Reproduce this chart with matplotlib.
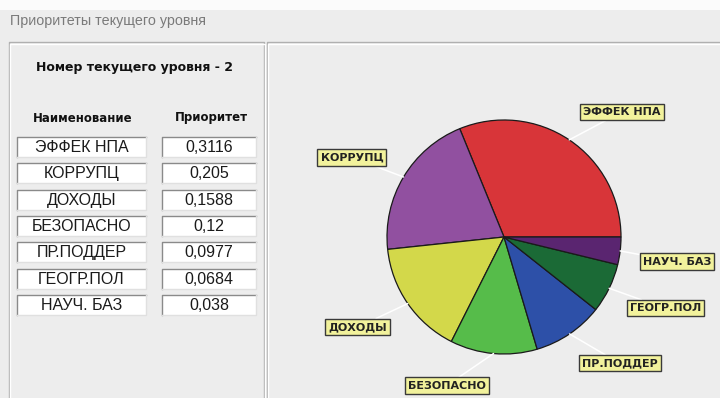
import numpy as np
import matplotlib
matplotlib.use('Agg')
import matplotlib.pyplot as plt
from matplotlib.patches import Rectangle

# priorities of the current level
names = ['ЭФФЕК НПА', 'КОРРУПЦ', 'ДОХОДЫ', 'БЕЗОПАСНО', 'ПР.ПОДДЕР', 'ГЕОГР.ПОЛ', 'НАУЧ. БАЗ']
priorities = [0.3116, 0.205, 0.1588, 0.12, 0.0977, 0.0684, 0.038]
level = 2

colors = ['#d83539', '#9150a0', '#d3d84a', '#56bc4a', '#2d50a8', '#1b6a36', '#5a2570']
# where each callout sits, in pie radius units
label_pos = [(1.01, 1.07), (-1.30, 0.68), (-1.25, -0.77), (-0.49, -1.27),
             (0.99, -1.08), (1.38, -0.61), (1.48, -0.21)]

W, H = 720, 398
fig = plt.figure(figsize=(W / 100, H / 100), dpi=100)
fig.patch.set_facecolor('#ededed')

# window background drawn in pixel coordinates
bg = fig.add_axes([0, 0, 1, 1])
bg.set_xlim(0, W)
bg.set_ylim(H, 0)
bg.axis('off')

bg.add_patch(Rectangle((0, 0), W, 10, fc='#fbfbfb', ec='none'))
bg.text(10, 21, 'Приоритеты текущего уровня', fontsize=10.3, color='#7a7a7a',
        family='Liberation Sans', va='center', ha='left')


def etched(x0, y0, x1, y1):
    bg.plot([x0, x1, x1, x0, x0], [y1, y1, y0, y0, y1], color='#b0b0b0', lw=1)
    bg.plot([x0 + 1.5, x1 + 1.5, x1 + 1.5, x0 + 1.5, x0 + 1.5],
            [y1 + 3, y1 + 3, y0 + 1.5, y0 + 1.5, y1 + 3], color='white', lw=1)


etched(8.5, 42, 263.5, 405)
etched(266.5, 42, 730, 405)

bg.text(135, 67, f'Номер текущего уровня - {level}', fontsize=9, weight='bold',
        ha='center', va='center', color='#111111')
bg.text(83, 118, 'Наименование', fontsize=8.5, weight='bold', ha='center', va='center',
        color='#111111')
bg.text(211, 118, 'Приоритет', fontsize=8.5, weight='bold', ha='center', va='center',
        color='#111111')


def cell(x0, x1, y0, txt):
    h = 20
    bg.add_patch(Rectangle((x0, y0), x1 - x0, h, fc='white', ec='none'))
    bg.plot([x0, x0, x1], [y0 + h, y0, y0], color='#8a8a8a', lw=1)
    bg.plot([x0, x1, x1], [y0 + h, y0 + h, y0], color='#e0e0e0', lw=1)
    bg.text((x0 + x1) / 2, y0 + h / 2 + 0.5, txt, fontsize=11.5, family='Liberation Sans',
            ha='center', va='center', color='#1a1a1a')


for i, (n, p) in enumerate(zip(names, priorities)):
    top = 137 + i * 26.3
    cell(17, 146, top, n)
    cell(162, 256, top, str(p).replace('.', ','))

# pie chart
cx, cy, r = 504, 237, 117
ax = fig.add_axes([(cx - r) / W, (H - cy - r) / H, 2 * r / W, 2 * r / H])
wedges, _ = ax.pie(priorities, colors=colors, startangle=0, counterclock=True,
                   wedgeprops=dict(edgecolor='#1a1a1a', linewidth=0.9))
ax.set_xlim(-1, 1)
ax.set_ylim(-1, 1)
ax.axis('off')

for w, n, pos in zip(wedges, names, label_pos):
    mid = np.deg2rad((w.theta1 + w.theta2) / 2)
    ax.annotate(n, xy=(np.cos(mid), np.sin(mid)), xytext=pos, textcoords='data',
                ha='center', va='center', fontsize=8, weight='bold', color='#222222',
                annotation_clip=False,
                bbox=dict(boxstyle='square,pad=0.28', fc='#f2f29c', ec='#3a3a3a', lw=1),
                arrowprops=dict(arrowstyle='-', color='white', lw=1.1,
                                shrinkA=0, shrinkB=0))

fig.savefig('out.png', dpi=100, facecolor=fig.get_facecolor())
